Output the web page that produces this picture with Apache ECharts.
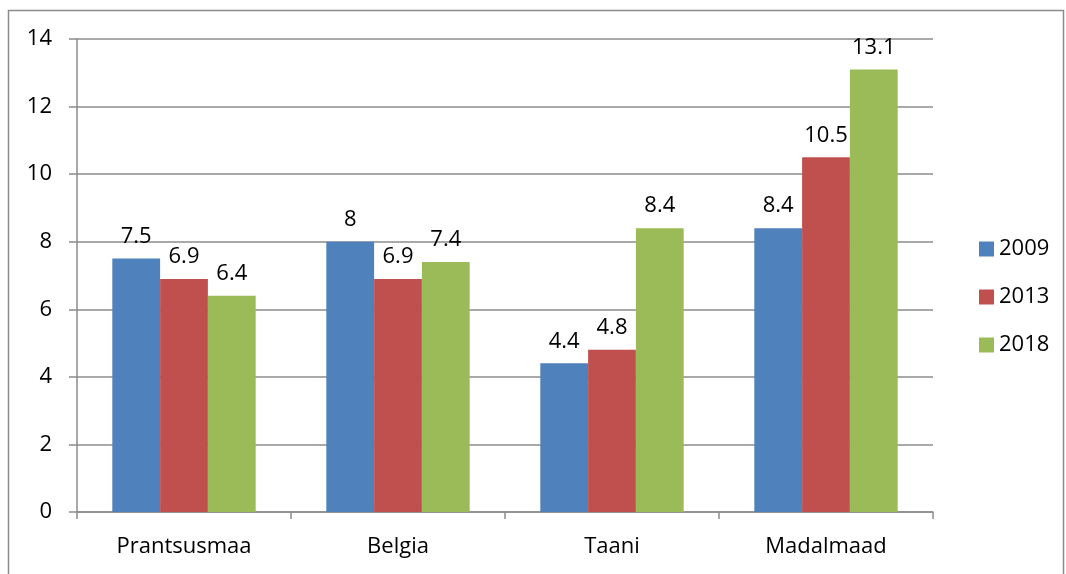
<!DOCTYPE html>
<html><head><meta charset="utf-8">
<script src="https://cdn.jsdelivr.net/npm/echarts@6/dist/echarts.min.js"></script>
<style>html,body{margin:0;padding:0;background:#fff}#c{width:1066px;height:574px}</style>
</head><body><div id="c"></div>
<script>
const categories = ['Prantsusmaa', 'Belgia', 'Taani', 'Madalmaad'];
const seriesNames = ['2009', '2013', '2018'];
const values2009 = [7.5, 8, 4.4, 8.4];
const values2013 = [6.9, 6.9, 4.8, 10.5];
const values2018 = [6.4, 7.4, 8.4, 13.1];
const yTicks = [0, 2, 4, 6, 8, 10, 12, 14];
const colors = ['#4F81BD', '#C0504D', '#9BBB59'];
const allValues = [values2009, values2013, values2018];
const FONT = 'Open Sans';

const chart = echarts.init(document.getElementById('c'), null, {renderer: 'canvas'});
chart.setOption({
  animation: false,
  backgroundColor: '#fff',
  textStyle: {fontFamily: FONT},
  graphic: [{
    type: 'rect', shape: {x: 8.5, y: 10.5, width: 1055, height: 580},
    style: {fill: 'none', stroke: '#8c8c8c', lineWidth: 1.5}, silent: true
  }],
  grid: {left: 77, right: 133, top: 39, bottom: 62},
  legend: {
    orient: 'vertical', left: 974, top: 233, itemWidth: 15, itemHeight: 15, itemGap: 26,
    icon: 'rect',
    textStyle: {fontSize: 22, color: '#000', fontFamily: FONT},
    data: seriesNames
  },
  xAxis: {
    type: 'category', data: categories,
    axisLine: {lineStyle: {color: '#8c8c8c', width: 1.5}},
    axisTick: {show: true, length: 7, lineStyle: {color: '#8c8c8c', width: 1.5}},
    axisLabel: {fontSize: 22, color: '#000', margin: 24, fontFamily: FONT}
  },
  yAxis: {
    type: 'value', min: yTicks[0], max: yTicks[yTicks.length - 1], interval: 2,
    axisLine: {show: true, lineStyle: {color: '#8c8c8c', width: 1.5}},
    axisTick: {show: true, length: 8, lineStyle: {color: '#8c8c8c', width: 1.5}},
    splitLine: {lineStyle: {color: '#8c8c8c', width: 1.5}},
    axisLabel: {fontSize: 22, color: '#000', margin: 25, fontFamily: FONT}
  },
  series: seriesNames.map((n, i) => ({
    name: n, type: 'bar', data: allValues[i],
    itemStyle: {color: colors[i]},
    barGap: '0%', barCategoryGap: '33%',
    label: {show: true, position: 'top', distance: 11, fontSize: 22, color: '#000', fontFamily: FONT}
  }))
});
</script></body></html>
